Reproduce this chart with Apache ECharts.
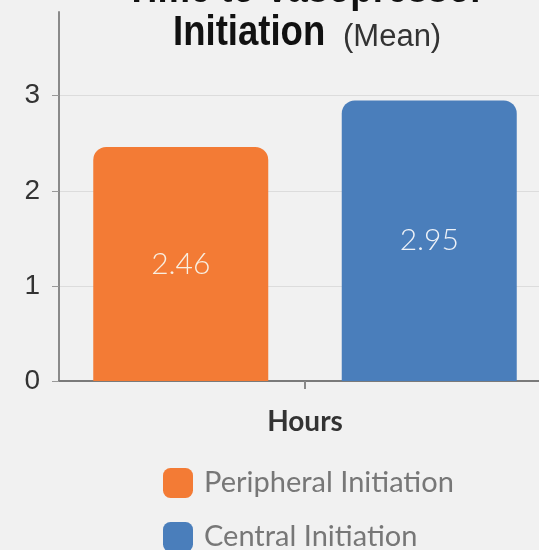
<!DOCTYPE html>
<html>
<head>
<meta charset="utf-8">
<script src="https://cdn.jsdelivr.net/npm/echarts@6/dist/echarts.min.js"></script>
<style>
html,body{margin:0;padding:0;background:#f1f1f1;}
#chart{width:539px;height:550px;}
</style>
</head>
<body>
<div id="chart"></div>
<script>
// ---- data ----
var categories = ['Hours'];
var seriesNames = ['Peripheral Initiation', 'Central Initiation'];
var peripheralValues = [2.46];
var centralValues = [2.95];
var yTickValues = [0, 1, 2, 3];
var titleLine1 = 'Time to Vasopressor';
var titleLine2 = 'Initiation';
var titleNote = '(Mean)';

var chart = echarts.init(document.getElementById('chart'));
var option = {
  backgroundColor: '#f1f1f1',
  animation: false,
  graphic: [
    {
      type: 'text', x: 305, y: -10, scaleX: 0.85, z: 10,
      style: { text: titleLine1, fill: '#111', align: 'center', verticalAlign: 'middle',
        font: 'bold 43px "Liberation Sans", Arial, sans-serif' }
    },
    {
      type: 'text', x: 173, y: 33, scaleX: 0.85, z: 10,
      style: { text: titleLine2, fill: '#111', align: 'left', verticalAlign: 'middle',
        font: 'bold 43px "Liberation Sans", Arial, sans-serif' }
    },
    {
      type: 'text', x: 343, y: 37, z: 10,
      style: { text: titleNote, fill: '#333', align: 'left', verticalAlign: 'middle',
        font: 'normal 31px "Liberation Sans", Arial, sans-serif' }
    }
  ],
  grid: { left: 59, top: 12, width: 492, height: 369, containLabel: false, outerBoundsMode: 'none' },
  legend: {
    orient: 'vertical',
    left: 163,
    top: 468,
    height: 150,
    padding: 0,
    itemWidth: 30,
    itemHeight: 30,
    itemGap: 24,
    icon: 'roundRect',
    data: seriesNames,
    textStyle: { fontFamily: 'Lato, sans-serif', fontSize: 29, color: '#777', padding: [0, 0, 0, 6] }
  },
  xAxis: {
    type: 'category',
    data: categories,
    axisLine: { lineStyle: { color: '#7a7a7a', width: 2 } },
    axisTick: { show: true, alignWithLabel: true, length: 8, lineStyle: { color: '#888', width: 2 } },
    axisLabel: { fontFamily: 'Lato, sans-serif', fontWeight: 'bold', fontSize: 28, color: '#333', margin: 27 }
  },
  yAxis: {
    type: 'value',
    min: 0,
    max: 3.88,
    interval: 1,
    axisLine: { show: true, lineStyle: { color: '#8a8a8a', width: 2 } },
    axisTick: { show: true, length: 7, customValues: yTickValues, lineStyle: { color: '#999', width: 1 } },
    axisLabel: { customValues: yTickValues, fontFamily: '"Liberation Sans", Arial, sans-serif', fontSize: 28, color: '#333', margin: 19 },
    splitLine: { show: true, lineStyle: { color: ['#dcdcdc', '#dcdcdc', '#dcdcdc', '#dcdcdc', 'rgba(0,0,0,0)'], width: 1 } }
  },
  series: [
    {
      name: seriesNames[0],
      type: 'bar',
      data: peripheralValues,
      barWidth: 175,
      barGap: '42%',
      itemStyle: { color: '#f37b35', borderRadius: [13, 13, 0, 0] },
      label: { show: true, position: 'inside', fontFamily: 'Lato, sans-serif', fontWeight: 300, fontSize: 30, color: '#f8efe2' }
    },
    {
      name: seriesNames[1],
      type: 'bar',
      data: centralValues,
      barWidth: 175,
      barGap: '42%',
      itemStyle: { color: '#4a7ebb', borderRadius: [13, 13, 0, 0] },
      label: { show: true, position: 'inside', fontFamily: 'Lato, sans-serif', fontWeight: 300, fontSize: 30, color: '#eef2f8' }
    }
  ]
};
chart.setOption(option);
</script>
</body>
</html>
